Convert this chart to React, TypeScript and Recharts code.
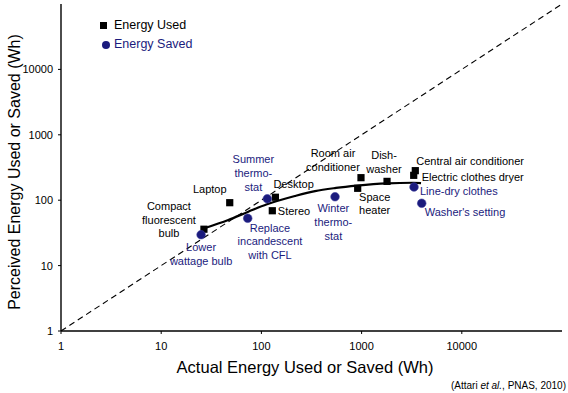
import React from 'react';
import { ComposedChart, Scatter, Line, XAxis, YAxis, ReferenceLine } from 'recharts';

// tick labels (log axes)
const xTicks = [1, 10, 100, 1000, 10000];
const yTicks = [1, 10, 100, 1000, 10000];

// energy used (squares)
const usedNames = [
  'Compact\nfluorescent\nbulb', 'Laptop', 'Desktop', 'Stereo', 'Room air\nconditioner',
  'Space\nheater', 'Dish-\nwasher', 'Central air conditioner', 'Electric clothes dryer',
];
const usedActual = [26.7, 48.3, 138, 128.5, 986, 914, 1794, 3435, 3311];
const usedPerceived = [36, 91.6, 111, 69, 221, 152, 194, 283, 240];

// energy saved (circles)
const savedNames = [
  'Lower\nwattage bulb', 'Replace\nincandescent\nwith CFL', 'Summer\nthermo-\nstat',
  'Winter\nthermo-\nstat', 'Line-dry clothes', "Washer's setting",
];
const savedActual = [25, 73, 114.6, 543, 3335, 3980];
const savedPerceived = [29.7, 52.9, 105, 113, 159, 89.7];

// fitted curve
const fitActual = [26.9, 46.7, 74, 113.7, 216, 343, 555, 900, 1795, 3260, 3920];
const fitPerceived = [37.2, 49.8, 66.7, 86.6, 116, 138, 154, 167, 181, 185, 183];

const NAVY = '#1b1b7d';
const FONT = '"Liberation Sans", Arial, Helvetica, sans-serif';
const LH = 13.8;

// label placement relative to the marker: dx, dy of first line centre, anchor
const place: Record<string, [number, number, 'start' | 'middle']> = {
  'Compact\nfluorescent\nbulb': [-35, -23.3, 'middle'],
  'Laptop': [-20, -14, 'middle'],
  'Desktop': [-2, -13, 'start'],
  'Stereo': [5.5, 0, 'start'],
  'Room air\nconditioner': [-28, -24.4, 'middle'],
  'Space\nheater': [17, 8.4, 'middle'],
  'Dish-\nwasher': [-3, -26, 'middle'],
  'Central air conditioner': [1, -10, 'start'],
  'Electric clothes dryer': [8, 1.4, 'start'],
  'Lower\nwattage bulb': [0, 12.6, 'middle'],
  'Replace\nincandescent\nwith CFL': [22.3, 9.4, 'middle'],
  'Summer\nthermo-\nstat': [-14, -39.4, 'middle'],
  'Winter\nthermo-\nstat': [-1.7, 11.6, 'middle'],
  'Line-dry clothes': [6, 4, 'start'],
  "Washer's setting": [3, 9, 'start'],
};

const usedData = usedNames.map((name, i) => ({ name, x: usedActual[i], y: usedPerceived[i] }));
const savedData = savedNames.map((name, i) => ({ name, x: savedActual[i], y: savedPerceived[i] }));
const fitData = fitActual.map((x, i) => ({ x, y: fitPerceived[i] }));

function PointLabel({ cx, cy, name, color }: { cx: number; cy: number; name: string; color: string }) {
  const [dx, dy, anchor] = place[name] || [6, 0, 'start'];
  return (
    <text fontSize={11} fontFamily={FONT} fill={color} textAnchor={anchor}>
      {name.split('\n').map((ln, i) => (
        <tspan key={i} x={cx + dx} y={cy + dy + i * LH} dy="0.35em">{ln}</tspan>
      ))}
    </text>
  );
}

const SquareShape = (props: any) => {
  const { cx, cy, payload } = props;
  return (
    <g>
      <rect x={cx - 3.6} y={cy - 3.6} width={7.2} height={7.2} fill="#000" />
      <PointLabel cx={cx} cy={cy} name={payload.name} color="#000" />
    </g>
  );
};

const CircleShape = (props: any) => {
  const { cx, cy, payload } = props;
  return (
    <g>
      <circle cx={cx} cy={cy} r={4.3} fill={NAVY} stroke="#3a3a9a" strokeWidth={0.6} />
      <PointLabel cx={cx} cy={cy} name={payload.name} color={NAVY} />
    </g>
  );
};

const XTitle = () => (
  <g fontFamily={FONT}>
    <text x={305} y={367} fontSize={16.5} textAnchor="middle" dominantBaseline="central" fill="#000">
      Actual Energy Used or Saved (Wh)
    </text>
    <text x={566} y={385} fontSize={10} textAnchor="end" dominantBaseline="central" fill="#000">
      (Attari <tspan fontStyle="italic">et al.</tspan>, PNAS, 2010)
    </text>
  </g>
);

const YTitle = () => (
  <text
    x={14} y={172} fontSize={16} fontFamily={FONT} textAnchor="middle" dominantBaseline="central"
    fill="#000" transform="rotate(-90, 14, 172)"
  >
    Perceived Energy Used or Saved (Wh)
  </text>
);

const tickStyle = { fontSize: 11, fill: '#000', fontFamily: FONT };

export default function App() {
  return (
    <div style={{ position: 'absolute', left: 0, top: 0, width: 568, height: 393, background: '#fff' }}>
      <ComposedChart width={568} height={393} margin={{ top: 4, right: 6, bottom: 0, left: 0 }}>
        <XAxis
          dataKey="x" type="number" scale="log" domain={[1, 100000]} allowDataOverflow
          ticks={xTicks} tick={tickStyle} tickSize={3} tickMargin={8} height={62}
          axisLine={{ stroke: '#000', strokeWidth: 1.4 }} tickLine={{ stroke: '#000' }}
          label={{ content: () => <XTitle /> }}
        />
        <XAxis
          xAxisId="top" orientation="top" type="number" scale="log" domain={[1, 100000]}
          height={0} tick={false} tickLine={false} axisLine={{ stroke: '#666', strokeWidth: 1.6 }}
        />
        <YAxis
          dataKey="y" type="number" scale="log" domain={[1, 100000]} allowDataOverflow
          ticks={yTicks} tick={tickStyle} tickSize={3} tickMargin={5} width={61}
          axisLine={{ stroke: '#000', strokeWidth: 1.4 }} tickLine={{ stroke: '#000' }}
          label={{ content: () => <YTitle /> }}
        />
        <YAxis
          yAxisId="right" orientation="right" type="number" scale="log" domain={[1, 100000]}
          width={0} tick={false} tickLine={false} axisLine={{ stroke: '#000', strokeWidth: 1.2 }}
        />
        <ReferenceLine
          segment={[{ x: 1, y: 1 }, { x: 100000, y: 100000 }]}
          stroke="#000" strokeWidth={1.1} strokeDasharray="6 4" ifOverflow="hidden"
        />
        <Line
          data={fitData} dataKey="y" type="monotone" stroke="#000" strokeWidth={2.2}
          dot={false} activeDot={false} isAnimationActive={false}
        />
        <Scatter data={usedData} dataKey="y" shape={SquareShape} isAnimationActive={false} />
        <Scatter data={savedData} dataKey="y" shape={CircleShape} isAnimationActive={false} />
      </ComposedChart>
      <div style={{ position: 'absolute', left: 98, top: 16, fontFamily: FONT, fontSize: 12.5, lineHeight: '19px' }}>
        <div style={{ display: 'flex', alignItems: 'center', color: '#000' }}>
          <span style={{ width: 7, height: 7, background: '#000', display: 'inline-block', marginLeft: 2, marginRight: 7 }} />
          Energy Used
        </div>
        <div style={{ display: 'flex', alignItems: 'center', color: NAVY }}>
          <span style={{ width: 8, height: 8, borderRadius: 4, background: NAVY, display: 'inline-block', marginLeft: 4, marginRight: 4 }} />
          Energy Saved
        </div>
      </div>
    </div>
  );
}
